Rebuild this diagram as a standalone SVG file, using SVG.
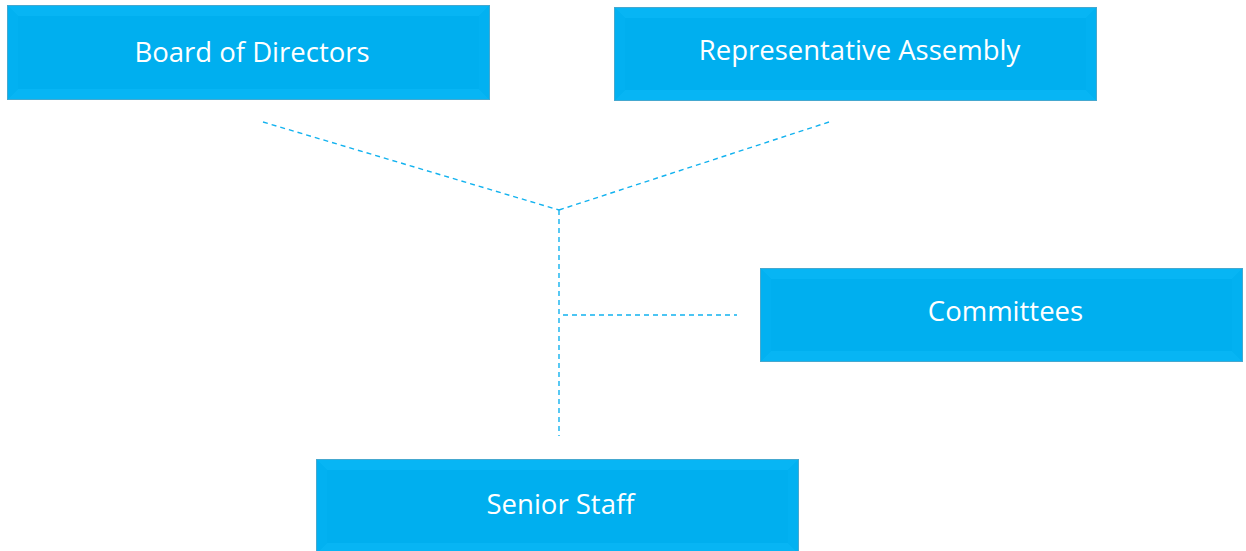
<svg xmlns="http://www.w3.org/2000/svg" width="1246" height="551" viewBox="0 0 1246 551">
<defs>
<style>
.box{fill:#00AFEF;stroke:#45A8CF;stroke-width:1}
.bt{fill:#07B5F4}
.bs{fill:#02B1F1}
.lbl{font-family:"Open Sans","Noto Sans",sans-serif;font-size:27.5px;fill:#FFFFFF;text-anchor:middle}
.con{fill:none;stroke:#12B2EF;stroke-width:1.4;stroke-dasharray:5 4}
</style>
</defs>
<rect width="1246" height="551" fill="#FFFFFF"/>
<g id="connectors">
<line class="con" x1="263" y1="122" x2="559" y2="210"/>
<line class="con" x1="829" y1="122" x2="559" y2="210"/>
<line class="con" x1="559" y1="210" x2="559" y2="436"/>
<line class="con" x1="563" y1="315" x2="737" y2="315"/>
</g>
<g id="board">
<rect class="box" x="7.5" y="5.5" width="482" height="94"/>
<polygon class="bt" points="8,6 489,6 479,16 18,16"/>
<polygon class="bt" points="8,99 489,99 479,89 18,89"/>
<polygon class="bs" points="8,6 18,16 18,89 8,99"/>
<polygon class="bs" points="489,6 479,16 479,89 489,99"/>
<text class="lbl" x="252" y="62">Board of Directors</text>
</g>
<g id="assembly">
<rect class="box" x="614.5" y="7.5" width="482" height="93"/>
<polygon class="bt" points="615,8 1096,8 1086,18 625,18"/>
<polygon class="bt" points="615,100 1096,100 1086,90 625,90"/>
<polygon class="bs" points="615,8 625,18 625,90 615,100"/>
<polygon class="bs" points="1096,8 1086,18 1086,90 1096,100"/>
<text class="lbl" x="859.5" y="60">Representative Assembly</text>
</g>
<g id="committees">
<rect class="box" x="760.5" y="268.5" width="482" height="93"/>
<polygon class="bt" points="761,269 1242,269 1232,279 771,279"/>
<polygon class="bt" points="761,361 1242,361 1232,351 771,351"/>
<polygon class="bs" points="761,269 771,279 771,351 761,361"/>
<polygon class="bs" points="1242,269 1232,279 1232,351 1242,361"/>
<text class="lbl" x="1005.5" y="321">Committees</text>
</g>
<g id="senior">
<rect class="box" x="316.5" y="459.5" width="482" height="94"/>
<polygon class="bt" points="317,460 798,460 788,470 327,470"/>
<polygon class="bt" points="317,553 798,553 788,543 327,543"/>
<polygon class="bs" points="317,460 327,470 327,543 317,553"/>
<polygon class="bs" points="798,460 788,470 788,543 798,553"/>
<text class="lbl" x="560.5" y="514">Senior Staff</text>
</g>
</svg>
